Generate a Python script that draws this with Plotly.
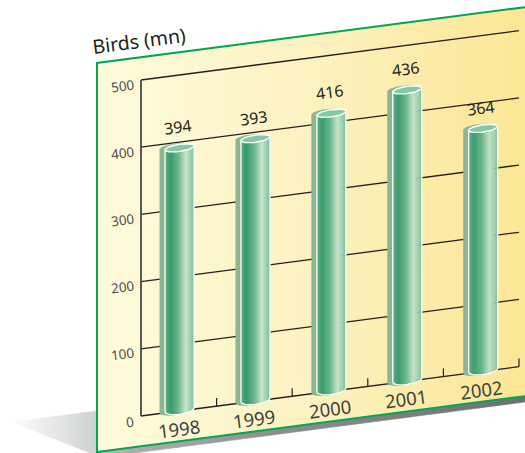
import numpy as np
import plotly.graph_objects as go

# Chart data
years = ["1998", "1999", "2000", "2001", "2002"]
birds = [394, 393, 416, 436, 364]
value_ticks = [0, 100, 200, 300, 400, 500]
y_title = "Birds (mn)"

# Sheared plotting plane: one year slot is CAT_PX wide, one unit is VAL_PX tall,
# and every slot to the right climbs by LIFT value units.
W, H = 525, 453
ORIGIN_X, ORIGIN_Y = 141, 416
CAT_PX = 75.6
VAL_PX = 0.672
SLOPE = 0.1305
LIFT = CAT_PX * SLOPE / VAL_PX
ANGLE = -7.4


def sheared(cat, val):
    return np.asarray(val, float) + LIFT * np.asarray(cat, float)


def px(x, y):
    return (np.asarray(x, float) - ORIGIN_X) / CAT_PX, (ORIGIN_Y - np.asarray(y, float)) / VAL_PX


def hex_rgb(c):
    return np.array([int(c[i:i + 2], 16) for i in (1, 3, 5)], float)


def ramp(stops, f):
    pos = [s[0] for s in stops]
    cols = np.array([hex_rgb(s[1]) for s in stops])
    r, g, b = (np.interp(f, pos, cols[:, k]) for k in range(3))
    return f"rgb({r:.0f},{g:.0f},{b:.0f})"


fig = go.Figure()


def poly(xs, ys, fill, line=None, width=0.6):
    fig.add_trace(go.Scatter(x=list(xs), y=list(ys), mode="lines", fill="toself", fillcolor=fill,
                             line=dict(color=line or fill, width=width), hoverinfo="skip"))


def stroke(xs, ys, color, width):
    fig.add_trace(go.Scatter(x=list(xs), y=list(ys), mode="lines", hoverinfo="skip",
                             line=dict(color=color, width=width)))


# Ground shadow to the left of the board
TIP = (12, 422)
SHADOW_STOPS = [(0, "#fcfcfc"), (0.5, "#e6e7e8"), (1, "#cdcfd1")]
for x0 in np.arange(TIP[0], 97, 3.0):
    x1 = x0 + 3
    f = (x0 - TIP[0]) / (97 - TIP[0])
    top = lambda x: TIP[1] + (411 - TIP[1]) * (x - TIP[0]) / (97 - TIP[0])
    bot = lambda x: TIP[1] + (453 - TIP[1]) * (x - TIP[0]) / (90 - TIP[0])
    a, b = px([x0, x1, x1, x0], [top(x0), top(x1), bot(x1), bot(x0)])
    poly(a, b, ramp(SHADOW_STOPS, f))

# Thin shadow under the board's lower edge
BAND_STOPS = [(0, "#b4b5b7"), (0.4, "#8e8f92"), (1, "#6d6e71")]
for x0 in np.arange(97, W, 8.0):
    x1 = x0 + 8
    low = lambda x: 402 + (525 - x) * SLOPE
    a, b = px([x0, x1, x1, x0], [low(x0) - 8, low(x1) - 8, low(x1), low(x0)])
    poly(a, b, ramp(BAND_STOPS, (x0 - 97) / (W - 97)))

# Board with a left-to-right cream gradient
BOARD_LEFT = 97
BOARD_TOP = 63
BOARD_BOTTOM = 452
PANEL_STOPS = [(0, "#fffbdc"), (0.5, "#fdf2c0"), (1, "#fde694")]
edge = lambda x, y0: y0 - (x - BOARD_LEFT) * SLOPE
for x0 in np.arange(BOARD_LEFT, W, 4.0):
    x1 = x0 + 4
    a, b = px([x0, x1, x1, x0], [edge(x0, BOARD_TOP), edge(x1, BOARD_TOP), edge(x1, BOARD_BOTTOM), edge(x0, BOARD_BOTTOM)])
    poly(a, b, ramp(PANEL_STOPS, (x0 - BOARD_LEFT) / (W - BOARD_LEFT)))
a, b = px([W, BOARD_LEFT, BOARD_LEFT, W], [edge(W, BOARD_TOP), BOARD_TOP, BOARD_BOTTOM, edge(W, BOARD_BOTTOM)])
stroke(a, b, "#00a651", 2)

# Gridlines, baseline ticks and the value axis
n = len(years)
for v in value_ticks:
    stroke([0, n], sheared([0, n], [v, v]), "#231f20", 1.3)
for i in range(1, n + 1):
    stroke([i, i], sheared([i, i], [0, 12]), "#231f20", 1.2)
stroke([0, 0], [0, max(value_ticks)], "#58595b", 2)

# Cylinders
HALF_W = 14.5 / CAT_PX
ELL_B = 3.6 / VAL_PX
BASE_B = 4.4 / VAL_PX
BASE_V = 1.5
TOP_DROP = 2.5
SLOT0 = 0.51
SLOT_STEP = 1.004
SHADOW_DX = 5.5 / CAT_PX
BAR_STOPS = [(0, "#5cb489"), (0.18, "#379a6a"), (0.45, "#66b78c"), (0.72, "#cde6cd"), (1, "#74bf98")]
t = np.linspace(0, 2 * np.pi, 61)

for i, val in enumerate(birds):
    c = SLOT0 + SLOT_STEP * i
    top = val - TOP_DROP

    # Cast shadow behind the cylinder
    u = np.linspace(-1, 1, 31)
    sx = c - SHADOW_DX + HALF_W * u
    stop = top + 1.5 + ELL_B * np.sqrt(1 - u ** 2)
    sbot = BASE_V - BASE_B * np.sqrt(1 - u ** 2)
    poly(np.r_[sx, sx[::-1]], np.r_[sheared(sx, stop), sheared(sx[::-1], sbot[::-1])], "#8db592")

    # Body, one vertical strip at a time
    strips = 29
    for k in range(strips):
        u0, u1 = -1 + 2 * k / strips, -1 + 2 * (k + 1) / strips
        us = np.linspace(u0, u1, 3)
        xs = c + HALF_W * us
        ytop = top - ELL_B * np.sqrt(np.clip(1 - us ** 2, 0, 1))
        ybot = BASE_V - BASE_B * np.sqrt(np.clip(1 - us ** 2, 0, 1))
        poly(np.r_[xs, xs[::-1]], np.r_[sheared(xs, ytop), sheared(xs[::-1], ybot[::-1])],
             ramp(BAR_STOPS, (k + 0.5) / strips))

    # White rim down both sides and round the foot
    arc = np.linspace(-1, 1, 31)
    ax = c + HALF_W * arc
    ay = BASE_V - BASE_B * np.sqrt(1 - arc ** 2)
    rim_x = np.r_[c - HALF_W, ax, c + HALF_W]
    rim_y = np.r_[sheared(c - HALF_W, top), sheared(ax, ay), sheared(c + HALF_W, top)]
    stroke(rim_x, rim_y, "#ffffff", 1.3)

    # Top cap
    ex = c + HALF_W * np.cos(t)
    ey = top + ELL_B * np.sin(t)
    poly(ex, sheared(ex, ey), "#84c9a3", "#ffffff", 1.4)

# Real text, rotated to follow the board
def label(x, y, text, size, color):
    fig.add_annotation(x=x, y=y, xref="x", yref="y", text=text, showarrow=False, textangle=ANGLE,
                       font=dict(family="Noto Sans", size=size, color=color),
                       xanchor="center", yanchor="middle")


VALUE_LABEL_UP = 19.5 / VAL_PX
for i, (yr, val) in enumerate(zip(years, birds)):
    c = SLOT0 + SLOT_STEP * i
    label(c - 0.03, sheared(c - 0.03, val + VALUE_LABEL_UP), str(val), 16, "#231f20")
    yc = 0.5 + i
    label(yc, float(sheared(yc, -17.5 / VAL_PX)), yr, 18.5, "#404042")

for v in value_ticks:
    tx = -18.5 / CAT_PX if v > 0 else -11 / CAT_PX
    label(tx, v - 5.5 / VAL_PX, str(v), 13.5, "#4d4d4f")

a, b = px(139, 40)
label(float(a), float(b), y_title, 19.5, "#231f20")

fig.update_layout(
    width=W, height=H, margin=dict(l=0, r=0, t=0, b=0), autosize=False,
    showlegend=False, paper_bgcolor="white", plot_bgcolor="white",
    xaxis=dict(visible=False, range=[-ORIGIN_X / CAT_PX, (W - ORIGIN_X) / CAT_PX], fixedrange=True),
    yaxis=dict(visible=False, range=[(ORIGIN_Y - H) / VAL_PX, ORIGIN_Y / VAL_PX], fixedrange=True),
)
fig.write_html("out.html", config=dict(displayModeBar=False))
